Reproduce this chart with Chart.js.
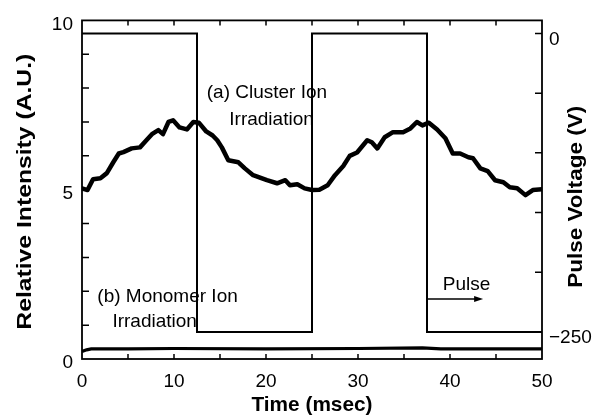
<!DOCTYPE html>
<html>
<head>
<meta charset="utf-8">
<script src="https://cdn.jsdelivr.net/npm/chart.js@4/dist/chart.umd.min.js"></script>
<style>
  html, body { margin: 0; padding: 0; background: #fff; }
  #wrap { width: 597px; height: 416px; }
</style>
</head>
<body>
<div id="wrap"><canvas id="c" width="597" height="416"></canvas></div>
<script>
// Time axis (msec)
const clusterTime = [0, 0.6, 1.2, 2.0, 2.7, 3.4, 4.0, 4.5, 5.4, 6.3, 7.0, 7.6, 8.3, 8.8, 9.4, 9.9,
  10.6, 11.4, 12.1, 12.7, 13.5, 14.2, 14.7, 15.2, 15.9, 17.0, 17.7, 18.6, 20.1, 21.2, 22.1, 22.6,
  23.4, 24.2, 25.0, 25.8, 26.7, 27.5, 28.4, 29.1, 29.9, 31.0, 31.5, 32.1, 32.9, 33.8, 34.9, 35.7,
  36.4, 37.0, 37.7, 38.6, 39.5, 40.3, 41.1, 42.0, 42.5, 43.3, 44.1, 44.9, 45.8, 46.5, 47.3, 48.2,
  49.0, 50];
// (a) cluster ion irradiation, relative intensity (A.U.)
const clusterIntensity = [5.04, 4.99, 5.31, 5.34, 5.49, 5.81, 6.07, 6.11, 6.22, 6.25, 6.46, 6.64, 6.76, 6.64, 7.0, 7.05,
  6.84, 6.78, 7.0, 6.98, 6.72, 6.6, 6.46, 6.25, 5.87, 5.81, 5.63, 5.43, 5.28, 5.19, 5.28, 5.13,
  5.16, 5.04, 4.99, 5.0, 5.13, 5.43, 5.7, 6.0, 6.1, 6.46, 6.4, 6.22, 6.55, 6.7, 6.7, 6.81,
  7.0, 6.9, 6.98, 6.78, 6.52, 6.07, 6.07, 5.96, 5.93, 5.63, 5.55, 5.28, 5.22, 5.07, 5.04, 4.84,
  4.99, 5.01];

// (b) monomer ion irradiation
const monomerTime = [0, 0.5, 1, 5, 10, 20, 30, 37, 39, 42, 50];
const monomerIntensity = [0.22, 0.27, 0.3, 0.3, 0.31, 0.3, 0.31, 0.33, 0.3, 0.3, 0.3];

// Pulse voltage (V)
const pulseTime = [0, 12.5, 12.5, 25, 25, 37.5, 37.5, 50];
const pulseVoltage = [0, 0, -250, -250, 0, 0, -250, -250];

// Tick labels
const xTickValues = [0, 10, 20, 30, 40, 50];
const leftTickValues = [0, 5, 10];
const rightTickValues = [-250, 0];

const FONT = '"Liberation Sans", Arial, Helvetica, sans-serif';

function pts(xs, ys) { return xs.map((x, i) => ({ x: x, y: ys[i] })); }

// Frame, inward ticks, axis titles and in-plot notes
const decorations = {
  id: 'decorations',
  afterDatasetsDraw(chart) {
    const ctx = chart.ctx;
    const a = chart.chartArea;
    const xs = chart.scales.x, yl = chart.scales.y, yr = chart.scales.y2;
    ctx.save();
    ctx.strokeStyle = '#000';
    ctx.fillStyle = '#000';

    // frame
    ctx.lineWidth = 1.8;
    ctx.strokeRect(a.left, a.top, a.right - a.left, a.bottom - a.top);

    // inward ticks
    ctx.lineWidth = 1.5;
    ctx.beginPath();
    for (let t = 5; t < 50; t += 5) {
      const px = xs.getPixelForValue(t);
      ctx.moveTo(px, a.bottom); ctx.lineTo(px, a.bottom - 5);
      ctx.moveTo(px, a.top); ctx.lineTo(px, a.top + 5);
    }
    for (let v = 1; v < 10; v += 1) {
      const py = yl.getPixelForValue(v);
      ctx.moveTo(a.left, py); ctx.lineTo(a.left + 7, py);
    }
    for (let v = -250; v <= 0; v += 50) {
      const py = yr.getPixelForValue(v);
      ctx.moveTo(a.right, py); ctx.lineTo(a.right - 7, py);
    }
    ctx.stroke();

    // notes inside the plot
    ctx.font = '19px ' + FONT;
    ctx.textAlign = 'center';
    ctx.textBaseline = 'middle';
    const note = (txt, t, v, scale) => {
      ctx.fillText(txt, xs.getPixelForValue(t), scale.getPixelForValue(v));
    };
    note('(a) Cluster Ion', 20.1, 7.85, yl);
    note('Irradiation', 20.6, 7.08, yl);
    note('(b) Monomer Ion', 9.3, 1.83, yl);
    note('Irradiation', 7.9, 1.09, yl);
    note('Pulse', 41.8, -210.7, yr);

    // arrow pointing along the pulse
    const ax0 = xs.getPixelForValue(37.5), ax1 = xs.getPixelForValue(43.6);
    const ay = yr.getPixelForValue(-222.4);
    ctx.lineWidth = 1.5;
    ctx.beginPath();
    ctx.moveTo(ax0, ay); ctx.lineTo(ax1 - 6, ay);
    ctx.stroke();
    ctx.beginPath();
    ctx.moveTo(ax1, ay); ctx.lineTo(ax1 - 9, ay - 3); ctx.lineTo(ax1 - 9, ay + 3);
    ctx.closePath();
    ctx.fill();

    // axis titles
    ctx.font = 'bold 21px ' + FONT;
    const title = (txt, x, y, rot, len) => {
      ctx.save();
      ctx.translate(x, y);
      ctx.rotate(rot);
      const w = ctx.measureText(txt).width;
      ctx.scale(len / w, 1);
      ctx.fillText(txt, 0, 0);
      ctx.restore();
    };
    title('Relative Intensity (A.U.)', a.left - 57, (a.top + a.bottom) / 2 + 2, -Math.PI / 2, 276);
    title('Pulse Voltage (V)', a.right + 34, (a.top + a.bottom) / 2 + 7, -Math.PI / 2, 182);
    title('Time (msec)', (a.left + a.right) / 2, a.bottom + 46, 0, 121);

    ctx.restore();
  }
};

new Chart(document.getElementById('c'), {
  type: 'line',
  data: {
    datasets: [
      {
        label: 'Pulse',
        data: pts(pulseTime, pulseVoltage),
        yAxisID: 'y2',
        borderColor: '#000',
        borderWidth: 2,
        pointRadius: 0,
        tension: 0
      },
      {
        label: '(a) Cluster Ion Irradiation',
        data: pts(clusterTime, clusterIntensity),
        yAxisID: 'y',
        borderColor: '#000',
        borderWidth: 4.5,
        pointRadius: 0,
        tension: 0,
        borderJoinStyle: 'round',
        borderCapStyle: 'round'
      },
      {
        label: '(b) Monomer Ion Irradiation',
        data: pts(monomerTime, monomerIntensity),
        yAxisID: 'y',
        borderColor: '#000',
        borderWidth: 3.2,
        pointRadius: 0,
        tension: 0
      }
    ]
  },
  options: {
    responsive: false,
    animation: false,
    layout: { padding: { top: 20, left: 0, right: 0, bottom: 0 } },
    plugins: {
      legend: { display: false },
      tooltip: { enabled: false }
    },
    scales: {
      x: {
        type: 'linear',
        position: 'bottom',
        min: 0,
        max: 50,
        grid: { display: false, drawTicks: false },
        border: { display: false },
        afterBuildTicks: s => { s.ticks = xTickValues.map(v => ({ value: v })); },
        afterFit: s => { s.height = 57; },
        ticks: {
          color: '#000',
          font: { family: FONT, size: 19 },
          padding: 11,
          maxRotation: 0,
          autoSkip: false
        }
      },
      y: {
        type: 'linear',
        position: 'left',
        min: 0,
        max: 10,
        grid: { display: false, drawTicks: false },
        border: { display: false },
        afterBuildTicks: s => { s.ticks = leftTickValues.map(v => ({ value: v })); },
        afterFit: s => { s.width = 82; },
        ticks: {
          color: '#000',
          font: { family: FONT, size: 19 },
          padding: 9,
          labelOffset: 4
        }
      },
      y2: {
        type: 'linear',
        position: 'right',
        min: -272.6,
        max: 10.9,
        grid: { display: false, drawTicks: false },
        border: { display: false },
        afterBuildTicks: s => { s.ticks = rightTickValues.map(v => ({ value: v })); },
        afterFit: s => { s.width = 55; },
        ticks: {
          color: '#000',
          font: { family: FONT, size: 19 },
          padding: 7,
          labelOffset: 6,
          callback: v => String(v).replace('-', '\u2212')
        }
      }
    }
  },
  plugins: [decorations]
});
</script>
</body>
</html>
